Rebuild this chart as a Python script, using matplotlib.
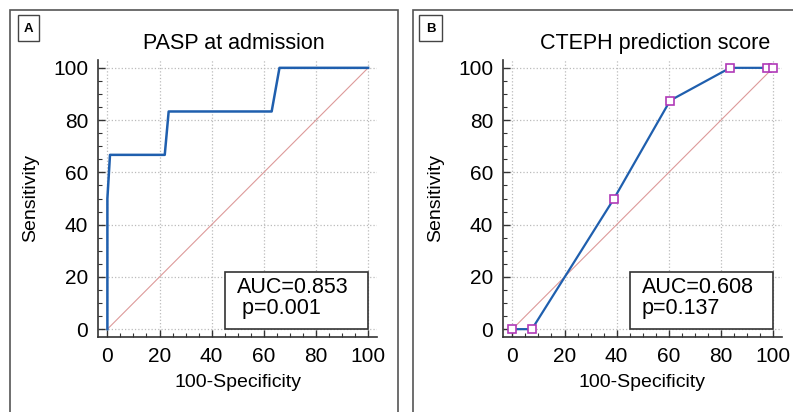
import matplotlib
matplotlib.use('Agg')
import matplotlib.pyplot as plt
from matplotlib.patches import Rectangle
from matplotlib.ticker import MultipleLocator

plt.rcParams['font.family'] = ['Liberation Sans', 'DejaVu Sans']

# Panel A: PASP at admission (ROC, step-like curve)
pasp_x = [0, 0, 1, 22, 23.5, 63, 66, 100]
pasp_y = [0, 50, 66.7, 66.7, 83.3, 83.3, 100, 100]

# Panel B: CTEPH prediction score (ROC with criterion points)
cteph_x = [0, 7.5, 39, 60.5, 83.5, 97.5, 100]
cteph_y = [0, 0, 50, 87.5, 100, 100, 100]

titles = ['PASP at admission', 'CTEPH prediction score']
panel_labels = ['A', 'B']
auc_lines = [('AUC=0.853', ' p=0.001'), ('AUC=0.608', 'p=0.137')]

W, H = 793, 412
fig = plt.figure(figsize=(W / 100, H / 100), dpi=100)

def fx(px):
    return px / W

def fy(py):
    return 1 - py / H

# outer panel frames
for x0, x1 in [(10, 398), (413, 800)]:
    fig.add_artist(Rectangle((fx(x0), fy(430)), fx(x1 - x0), fy(10) - fy(430),
                             transform=fig.transFigure, fill=False,
                             edgecolor='#555555', linewidth=1.2))

# small label boxes
for lab, (x0, x1) in zip(panel_labels, [(18, 39), (419, 442)]):
    fig.add_artist(Rectangle((fx(x0), fy(41)), fx(x1 - x0), fy(15) - fy(41),
                             transform=fig.transFigure, fill=False,
                             edgecolor='#444444', linewidth=1.0))
    fig.text(fx((x0 + x1) / 2), fy(28.5), lab, ha='center', va='center',
             fontsize=9.5, fontweight='bold')

axes_lefts = [98, 503]
title_x = [0.487, 0.547]
blue = '#1f5fae'
for i, left in enumerate(axes_lefts):
    ax = fig.add_axes([fx(left), fy(337), fx(279), fy(60) - fy(337)])
    ax.set_xlim(-3.6, 103.4)
    ax.set_ylim(-3, 103)
    ax.plot([0, 100], [0, 100], color='#dd9a9a', linewidth=0.8, zorder=2)
    if i == 0:
        ax.plot(pasp_x, pasp_y, color=blue, linewidth=1.8, zorder=3)
    else:
        ax.plot(cteph_x, cteph_y, color=blue, linewidth=1.6, zorder=3,
                marker='s', markersize=6, markerfacecolor='white',
                markeredgecolor='#b03ab8', markeredgewidth=1.2)
    for s in ['top', 'right']:
        ax.spines[s].set_visible(False)
    for s in ['left', 'bottom']:
        ax.spines[s].set_color('#333333')
        ax.spines[s].set_linewidth(1.2)
    ax.xaxis.set_major_locator(MultipleLocator(20))
    ax.yaxis.set_major_locator(MultipleLocator(20))
    ax.xaxis.set_minor_locator(MultipleLocator(5))
    ax.yaxis.set_minor_locator(MultipleLocator(5))
    ax.tick_params(which='major', direction='in', length=5, width=1, color='#333333',
                   labelsize=15, pad=7)
    ax.tick_params(which='minor', direction='in', length=3, width=0.8, color='#333333')
    ax.grid(True, which='major', linestyle=':', color='#bbbbbb', linewidth=0.9)
    ax.set_axisbelow(True)
    ax.set_xlabel('100-Specificity', fontsize=14, labelpad=6)
    ax.set_ylabel('Sensitivity', fontsize=14, labelpad=10)
    ax.set_title(titles[i], fontsize=15.5, pad=8, loc='center', x=title_x[i])
    # AUC box in data coordinates
    ax.add_patch(Rectangle((45, 0), 55, 21.8, facecolor='white',
                           edgecolor='#333333', linewidth=1.2, zorder=4))
    ax.text(49.5, 16, auc_lines[i][0], fontsize=15.5, ha='left', va='center', zorder=5)
    ax.text(49.5, 7.8, auc_lines[i][1], fontsize=15.5, ha='left', va='center', zorder=5)

fig.savefig('out.png', dpi=100)
